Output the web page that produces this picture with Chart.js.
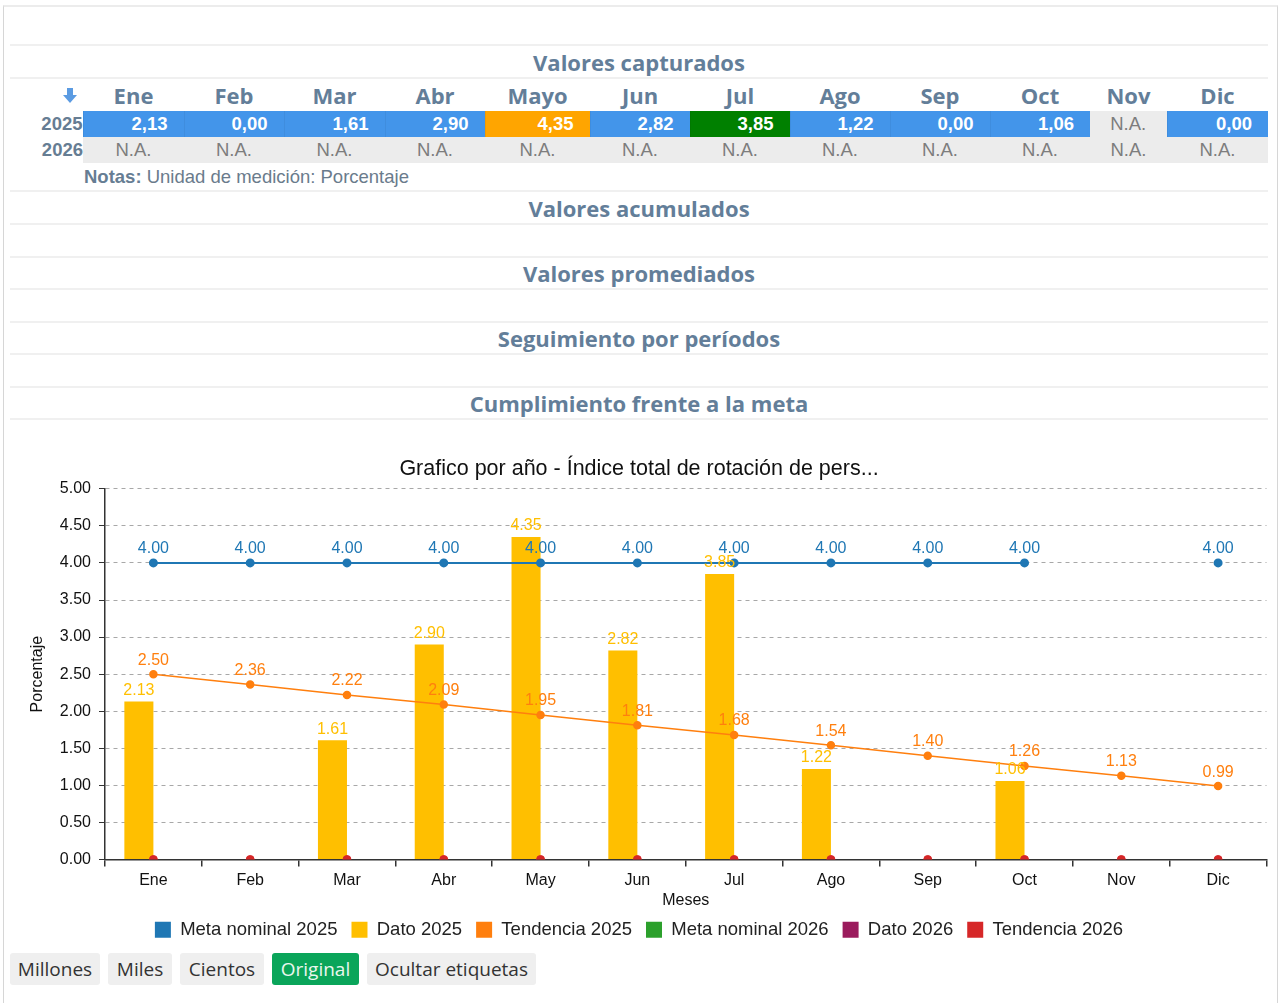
<!DOCTYPE html>
<html lang="es">
<head>
<meta charset="utf-8">
<title>Índice total de rotación de personal</title>
<script src="https://cdn.jsdelivr.net/npm/chart.js@4.4.1/dist/chart.umd.min.js"></script>
<style>
    body { margin: 0; background: #fff; font-family: "Liberation Sans", Arial, sans-serif; }
    #marco {
        position: absolute; left: 3px; top: 5px; width: 1273px; height: 1010px;
        border-left: 1px solid #d6d6d6; border-top: 2px solid #ececec; border-right: 1px solid #d6d6d6;
    }
    .linea { position: absolute; left: 10px; width: 1258px; height: 0; border-top: 2px solid #f0f0f0; }
    .titulo {
        position: absolute; left: 10px; width: 1258px; text-align: center;
        font-family: "Open Sans", sans-serif; font-weight: 700; font-size: 22px; color: #637e99;
        line-height: 30px;
    }
    #tabla { position: absolute; left: 38px; top: 79px; border-collapse: collapse; table-layout: fixed; }
    #tabla td, #tabla th { padding: 0; white-space: nowrap; }
    #tabla th {
        font-family: "Open Sans", sans-serif; font-weight: 700; font-size: 22px; color: #637e99;
        height: 32px; text-align: center;
    }
    #tabla th.flecha { text-align: right; padding-right: 5px; }
    #tabla td { height: 26px; font-size: 18.5px; }
    #tabla td.anio { font-weight: 700; color: #667d93; text-align: right; }
    #tabla td.valor { color: #fff; font-weight: 700; text-align: right; padding-right: 16px; border-left: 1px solid rgba(0,0,0,0.05); }
    #tabla td.na { background: #ececec; color: #7d7d7d; text-align: center; }
    #notas { position: absolute; left: 84px; top: 166px; font-size: 18.5px; color: #6a7b8c; }
    #notas b { color: #667d93; }
    #grafico { position: absolute; left: 10px; top: 445px; width: 1262px; height: 504px; }
    #botones { position: absolute; left: 10px; top: 953px; }
    #botones span {
        display: inline-block; height: 32px; line-height: 32px; margin-right: 8px; text-align: center;
        background: #efefef; color: #333; border-radius: 3px;
        font-family: "Open Sans", sans-serif; font-size: 19px;
    }
    #botones span.activo { background: #0aa55a; color: #eaf7ee; }
</style>
</head>
<body>
<div id="marco"></div>

<div class="linea" style="top:44px"></div>
<div class="titulo" style="top:47px">Valores capturados</div>
<div class="linea" style="top:77px"></div>

<table id="tabla"></table>
<div id="notas"><b>Notas:</b> Unidad de medición: Porcentaje</div>

<div class="linea" style="top:190px"></div>
<div class="titulo" style="top:193px">Valores acumulados</div>
<div class="linea" style="top:223px"></div>
<div class="linea" style="top:256px"></div>
<div class="titulo" style="top:258px">Valores promediados</div>
<div class="linea" style="top:288px"></div>
<div class="linea" style="top:321px"></div>
<div class="titulo" style="top:323px">Seguimiento por períodos</div>
<div class="linea" style="top:353px"></div>
<div class="linea" style="top:386px"></div>
<div class="titulo" style="top:388px">Cumplimiento frente a la meta</div>
<div class="linea" style="top:418px"></div>

<div id="grafico"><canvas id="chartCanvas"></canvas></div>

<div id="botones">
    <span style="width:90px">Millones</span><span style="width:64px">Miles</span><span style="width:84px">Cientos</span><span class="activo" style="width:87px">Original</span><span style="width:169px">Ocultar etiquetas</span>
</div>

<script>
const meses = ['Ene', 'Feb', 'Mar', 'Abr', 'May', 'Jun', 'Jul', 'Ago', 'Sep', 'Oct', 'Nov', 'Dic'];
const mesesTabla = ['Ene', 'Feb', 'Mar', 'Abr', 'Mayo', 'Jun', 'Jul', 'Ago', 'Sep', 'Oct', 'Nov', 'Dic'];
const anios = ['2025', '2026'];

const metaNominal2025 = [4.00, 4.00, 4.00, 4.00, 4.00, 4.00, 4.00, 4.00, 4.00, 4.00, null, 4.00];
const dato2025 = [2.13, 0.00, 1.61, 2.90, 4.35, 2.82, 3.85, 1.22, 0.00, 1.06, null, 0.00];
const tendencia2025 = [2.50, 2.36, 2.22, 2.09, 1.95, 1.81, 1.68, 1.54, 1.40, 1.26, 1.13, 0.99];
const metaNominal2026 = [null, null, null, null, null, null, null, null, null, null, null, null];
const dato2026 = [null, null, null, null, null, null, null, null, null, null, null, null];
const tendencia2026 = [0, 0, 0, 0, 0, 0, 0, 0, 0, 0, 0, 0];

const ejeYMax = 5;
const ejeYPaso = 0.5;

// Tabla de valores capturados
const anchos = [101, 100, 101, 100, 105, 100, 100, 100, 100, 100, 77, 101];

function colorCelda(valor, meta) {
    if (meta != null && valor > meta) return '#ffa500';
    if (meta != null && valor >= meta * 0.95) return '#008000';
    return '#4395ea';
}

function construirTabla() {
    const tabla = document.getElementById('tabla');
    let html = '<colgroup><col style="width:45px">';
    anchos.forEach(a => { html += '<col style="width:' + a + 'px">'; });
    html += '</colgroup><tr><th class="flecha"><svg width="16" height="17" viewBox="0 0 16 17">' +
        '<path d="M5 1h6v7h4l-7 8-7-8h4z" fill="#5b9be2"/></svg></th>';
    mesesTabla.forEach(m => { html += '<th>' + m + '</th>'; });
    html += '</tr>';

    [dato2025, dato2026].forEach((serie, k) => {
        const metas = k === 0 ? metaNominal2025 : metaNominal2026;
        html += '<tr><td class="anio">' + anios[k] + '</td>';
        serie.forEach((v, i) => {
            if (v == null) {
                html += '<td class="na">N.A.</td>';
            } else {
                html += '<td class="valor" style="background:' + colorCelda(v, metas[i]) + '">' +
                    v.toFixed(2).replace('.', ',') + '</td>';
            }
        });
        html += '</tr>';
    });
    tabla.innerHTML = html;
}

construirTabla();

// Etiquetas de valores sobre barras y puntos
const etiquetasPlugin = {
    id: 'etiquetas',
    afterDatasetsDraw(chart) {
        const ctx = chart.ctx;
        chart.data.datasets.forEach((ds, i) => {
            if (!ds.etiquetaColor) return;
            const meta = chart.getDatasetMeta(i);
            if (meta.hidden) return;
            ctx.save();
            ctx.font = '16px "Liberation Sans", Arial, sans-serif';
            ctx.fillStyle = ds.etiquetaColor;
            ctx.textAlign = 'center';
            ctx.textBaseline = 'middle';
            meta.data.forEach((el, j) => {
                const v = ds.data[j];
                if (v == null || v === 0) return;
                ctx.fillText(v.toFixed(2), el.x, el.y - ds.etiquetaSeparacion);
            });
            ctx.restore();
        });
    }
};

const fuente = '"Liberation Sans", Arial, sans-serif';

const ctx = document.getElementById('chartCanvas').getContext('2d');

new Chart(ctx, {
    type: 'bar',
    data: {
        labels: meses,
        datasets: [
            {
                type: 'line',
                label: 'Meta nominal 2025',
                data: metaNominal2025,
                borderColor: '#1f77b4',
                backgroundColor: '#1f77b4',
                borderWidth: 2,
                pointRadius: 3.5,
                pointHoverRadius: 3.5,
                order: 1,
                etiquetaColor: '#1f77b4',
                etiquetaSeparacion: 14
            },
            {
                label: 'Dato 2025',
                data: dato2025,
                backgroundColor: '#ffbf00',
                borderWidth: 0,
                order: 3,
                etiquetaColor: '#ffbf00',
                etiquetaSeparacion: 11
            },
            {
                type: 'line',
                label: 'Tendencia 2025',
                data: tendencia2025,
                borderColor: '#ff7f0e',
                backgroundColor: '#ff7f0e',
                borderWidth: 1.5,
                pointRadius: 3.5,
                pointHoverRadius: 3.5,
                order: 1,
                etiquetaColor: '#ff7f0e',
                etiquetaSeparacion: 14
            },
            {
                type: 'line',
                label: 'Meta nominal 2026',
                data: metaNominal2026,
                borderColor: '#2ca02c',
                backgroundColor: '#2ca02c',
                order: 1
            },
            {
                label: 'Dato 2026',
                data: dato2026,
                backgroundColor: '#9b1b5d',
                order: 3
            },
            {
                type: 'line',
                label: 'Tendencia 2026',
                data: tendencia2026,
                borderColor: '#d62728',
                backgroundColor: '#d62728',
                showLine: false,
                pointRadius: 4,
                pointHoverRadius: 4,
                order: 2
            }
        ]
    },
    options: {
        responsive: true,
        maintainAspectRatio: false,
        animation: false,
        layout: { padding: { left: 0, right: 4, top: 0, bottom: 0 } },
        datasets: {
            bar: { categoryPercentage: 0.6, barPercentage: 1 }
        },
        plugins: {
            title: {
                display: true,
                text: 'Grafico por año - Índice total de rotación de pers...',
                color: '#111',
                font: { family: fuente, size: 21.5, weight: 'normal' },
                padding: { top: 11, bottom: 7 }
            },
            legend: {
                position: 'bottom',
                labels: {
                    color: '#222',
                    boxWidth: 16,
                    boxHeight: 16,
                    padding: 14,
                    font: { family: fuente, size: 18.5 },
                    sort: (a, b) => a.datasetIndex - b.datasetIndex,
                    generateLabels(chart) {
                        return Chart.defaults.plugins.legend.labels.generateLabels(chart).map(l => {
                            l.lineWidth = 0;
                            return l;
                        });
                    }
                }
            },
            tooltip: { enabled: false }
        },
        scales: {
            x: {
                afterFit(scale) { scale.height = 47; },
                grid: {
                    drawOnChartArea: false,
                    drawTicks: true,
                    tickLength: 7,
                    color: '#333',
                    lineWidth: 1.5
                },
                border: { color: '#333', width: 1.5 },
                ticks: {
                    color: '#111',
                    padding: 4,
                    font: { family: fuente, size: 16 }
                },
                title: {
                    display: true,
                    text: 'Meses',
                    color: '#111',
                    font: { family: fuente, size: 16 },
                    padding: { top: 0, bottom: -4 }
                }
            },
            y: {
                min: 0,
                max: ejeYMax,
                afterFit(scale) { scale.width = 95; },
                grid: {
                    color: '#a8a8a8',
                    lineWidth: 1,
                    tickLength: 6,
                    tickColor: '#333',
                    tickBorderDash: [1, 0]
                },
                border: { color: '#333', width: 1.5, dash: [4, 4] },
                ticks: {
                    stepSize: ejeYPaso,
                    color: '#111',
                    padding: 8,
                    font: { family: fuente, size: 16 },
                    callback: function(value) {
                        return value.toFixed(2);
                    }
                },
                title: {
                    display: true,
                    text: 'Porcentaje',
                    color: '#111',
                    font: { family: fuente, size: 16 },
                    padding: 18
                }
            }
        }
    },
    plugins: [etiquetasPlugin]
});
</script>
</body>
</html>
